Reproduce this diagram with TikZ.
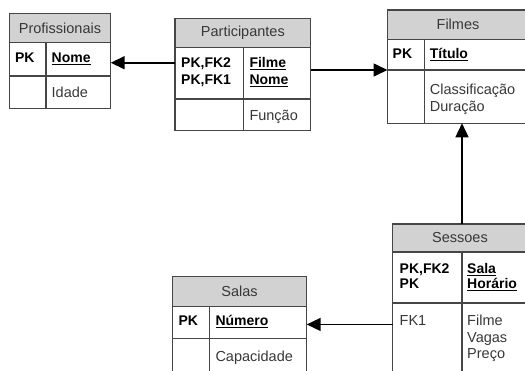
\documentclass[tikz,border=0pt]{standalone}
\usepackage{fontspec}
\setmainfont{Liberation Sans}
\usetikzlibrary{positioning}
\usetikzlibrary{arrows.meta}
\definecolor{headgray}{RGB}{210,210,210}
\definecolor{linegray}{RGB}{70,70,70}
\definecolor{textgray}{RGB}{55,55,55}
\tikzset {
  % header of a table
  head/.style = {draw=linegray, fill=headgray, line width=1.3pt, inner sep=0pt, outer sep=0pt,
                 anchor=north west, text=textgray, font=\fontsize{14.5}{17}\selectfont},
  % one cell of a table body
  cell/.style = {draw=linegray, line width=1.3pt, inner sep=0pt, outer sep=0pt},
  % key markers (PK, FK)
  key/.style = {anchor=base west, inner sep=0pt, align=left, text=black,
                font=\bfseries\fontsize{14}{17}\selectfont},
  % attribute names
  attr/.style = {anchor=base west, inner sep=0pt, align=left, text=textgray,
                 font=\fontsize{14.5}{17}\selectfont},
  % primary key attributes
  pkattr/.style = {key, text=black},
}
% foreign key references
\tikzset{ref/.style = {-{Triangle[length=14pt, width=13pt]}, line width=1.6pt}}

\begin{document}
\begin{tikzpicture}[x=1pt, y=-1pt]
  \useasboundingbox (0,0) rectangle (525,371);
  \clip (0,0) rectangle (525,371);

  % Profissionais
  \node[head, minimum width=101.4pt, minimum height=29.4pt] (prof) at (9.3,13.3) {Profissionais};
  \node[cell, minimum width=36.7pt, minimum height=33.3pt] (prof-pk-k) [below right=0pt of prof.south west] {};
  \node[cell, minimum width=64.7pt, minimum height=33.3pt] (prof-pk-f) [right=0pt of prof-pk-k] {};
  \node[cell, minimum width=36.7pt, minimum height=32.7pt] (prof-at-k) [below right=0pt of prof-pk-k.south west] {};
  \node[cell, minimum width=64.7pt, minimum height=32.7pt] (prof-at-f) [right=0pt of prof-at-k] {};
  \node[key] (prof-pk-kt) at ([shift={(5.5pt,-20pt)}]prof-pk-k.north west) {PK};
  \node[pkattr] (prof-pk-ft) at ([shift={(5.5pt,-20pt)}]prof-pk-f.north west) {\underline{Nome}};
  \node[attr] (prof-at-ft) at ([shift={(5.5pt,-21.3pt)}]prof-at-f.north west) {Idade};

  % Participantes (multi-line texts sit on their last baseline)
  \node[head, minimum width=135.7pt, minimum height=29pt] (part) at (175,18.3) {Participantes};
  \node[cell, minimum width=68.3pt, minimum height=51.7pt] (part-pk-k) [below right=0pt of part.south west] {};
  \node[cell, minimum width=67.4pt, minimum height=51.7pt] (part-pk-f) [right=0pt of part-pk-k] {};
  \node[cell, minimum width=68.3pt, minimum height=31.7pt] (part-at-k) [below right=0pt of part-pk-k.south west] {};
  \node[cell, minimum width=67.4pt, minimum height=31.7pt] (part-at-f) [right=0pt of part-at-k] {};
  \node[key] (part-pk-kt) at ([shift={(6pt,-37pt)}]part-pk-k.north west) {PK,FK2\\PK,FK1};
  \node[pkattr] (part-pk-ft) at ([shift={(6pt,-37pt)}]part-pk-f.north west) {\underline{Filme}\\\underline{Nome}};
  \node[attr] (part-at-ft) at ([shift={(6pt,-22pt)}]part-at-f.north west) {Função};

  % Filmes
  \node[head, minimum width=141pt, minimum height=29.3pt] (film) at (387.5,10) {Filmes};
  \node[cell, minimum width=36.7pt, minimum height=30.7pt] (film-pk-k) [below right=0pt of film.south west] {};
  \node[cell, minimum width=104.3pt, minimum height=30.7pt] (film-pk-f) [right=0pt of film-pk-k] {};
  \node[cell, minimum width=36.7pt, minimum height=53.3pt] (film-at-k) [below right=0pt of film-pk-k.south west] {};
  \node[cell, minimum width=104.3pt, minimum height=53.3pt] (film-at-f) [right=0pt of film-at-k] {};
  \node[key] (film-pk-kt) at ([shift={(5pt,-19.3pt)}]film-pk-k.north west) {PK};
  \node[pkattr] (film-pk-ft) at ([shift={(5.5pt,-19.3pt)}]film-pk-f.north west) {\underline{Título}};
  \node[attr] (film-at-ft) at ([shift={(5.5pt,-42pt)}]film-at-f.north west) {Classificação\\Duração};

  % Sessoes
  \node[head, minimum width=135pt, minimum height=28pt] (ses) at (392.5,224) {Sessoes};
  \node[cell, minimum width=69.5pt, minimum height=51pt] (ses-pk-k) [below right=0pt of ses.south west] {};
  \node[cell, minimum width=65.5pt, minimum height=51pt] (ses-pk-f) [right=0pt of ses-pk-k] {};
  \node[cell, minimum width=69.5pt, minimum height=80pt] (ses-at-k) [below right=0pt of ses-pk-k.south west] {};
  \node[cell, minimum width=65.5pt, minimum height=80pt] (ses-at-f) [right=0pt of ses-at-k] {};
  \node[key] (ses-pk-kt) at ([shift={(7pt,-37pt)}]ses-pk-k.north west) {PK,FK2\\[-2pt]PK};
  \node[pkattr] (ses-pk-ft) at ([shift={(5pt,-37pt)}]ses-pk-f.north west) {\underline{Sala}\\[-2pt]\underline{Horário}};
  \node[attr] (ses-at-kt) at ([shift={(7pt,-23pt)}]ses-at-k.north west) {FK1};
  \node[attr] (ses-at-ft) at ([shift={(5pt,-56pt)}]ses-at-f.north west) {Filme\\[-0.5pt]Vagas\\[-0.5pt]Preço};

  % Salas
  \node[head, minimum width=134.4pt, minimum height=30.2pt] (sal) at (172.3,276.5) {Salas};
  \node[cell, minimum width=37pt, minimum height=31.5pt] (sal-pk-k) [below right=0pt of sal.south west] {};
  \node[cell, minimum width=97.4pt, minimum height=31.5pt] (sal-pk-f) [right=0pt of sal-pk-k] {};
  \node[cell, minimum width=37pt, minimum height=60pt] (sal-at-k) [below right=0pt of sal-pk-k.south west] {};
  \node[cell, minimum width=97.4pt, minimum height=60pt] (sal-at-f) [right=0pt of sal-at-k] {};
  \node[key] (sal-pk-kt) at ([shift={(6pt,-18.5pt)}]sal-pk-k.north west) {PK};
  \node[pkattr] (sal-pk-ft) at ([shift={(6pt,-18.5pt)}]sal-pk-f.north west) {\underline{Número}};
  \node[attr] (sal-at-ft) at ([shift={(6pt,-23pt)}]sal-at-f.north west) {Capacidade};

  % references
  \coordinate (prof-in) at ([yshift=-3.4pt]prof-pk-f.east);
  \coordinate (sal-in) at ([yshift=-2pt]sal-pk-f.east);
  \draw [ref] (part-pk-k.west |- prof-in) -- (prof-in);
  \draw [ref] (part-pk-f.east |- film-pk-k.south west) -- (film-pk-k.south west);
  \draw [ref] (ses-pk-f.west |- ses.north) -- (ses-pk-f.west |- film-at-k.south);
  \draw [ref] (ses-at-k.west |- sal-in) -- (sal-in);
\end{tikzpicture}
\end{document}
